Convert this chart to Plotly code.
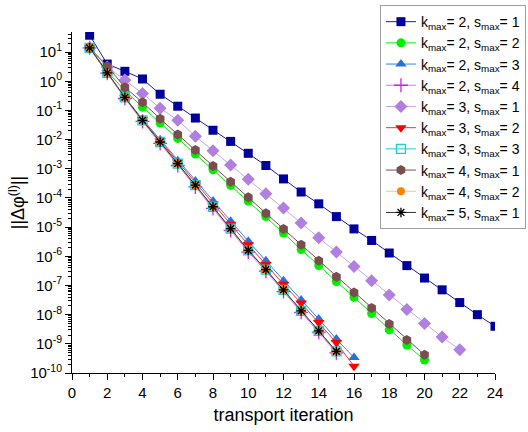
import plotly.graph_objects as go

# Residual norm per transport iteration for each (k_max, s_max) setting
res_k2_s1 = [38, 3.9, 2.2, 1.2, 0.36, 0.14, 0.055, 0.021, 8.7e-3, 3.4e-3, 1.3e-3, 4.5e-4,
             1.6e-4, 6.3e-5, 2.3e-5, 8.7e-6, 3.5e-6, 1.3e-6, 4.8e-7, 1.8e-7, 7.1e-8,
             2.6e-8, 1.0e-8, 4.0e-9]
res_k2_s2 = [14, 2.2, 0.47, 0.13, 0.037, 0.011, 3.2e-3, 9.3e-4, 2.7e-4, 7.9e-5, 2.3e-5,
             6.3e-6, 1.7e-6, 4.8e-7, 1.35e-7, 3.9e-8, 1.1e-8, 3.0e-9, 9.1e-10, 2.8e-10]
res_k2_s3 = [14, 1.95, 0.28, 0.05, 0.01, 1.9e-3, 3.8e-4, 7.9e-5, 1.6e-5, 3.3e-6, 7.1e-7,
             1.45e-7, 3.2e-8, 7.1e-9, 1.45e-9, 3.4e-10]
res_k2_s4 = [14, 1.9, 0.26, 0.042, 7.4e-3, 1.3e-3, 2.4e-4, 4.4e-5, 7.8e-6, 1.4e-6, 3.1e-7,
             6.2e-8, 1.2e-8, 2.5e-9, 4.9e-10]
res_k3_s1 = [14, 3.1, 1.1, 0.38, 0.12, 0.046, 0.013, 4.2e-3, 1.35e-3, 4.4e-4, 1.4e-4,
             4.5e-5, 1.4e-5, 4.3e-6, 1.4e-6, 4.5e-7, 1.45e-7, 4.7e-8, 1.5e-8, 5.0e-9,
             1.7e-9, 6.3e-10]
res_k3_s2 = [14, 1.95, 0.28, 0.048, 9.1e-3, 1.7e-3, 3.2e-4, 6.3e-5, 1.26e-5, 2.5e-6,
             5.2e-7, 1.1e-7, 2.5e-8, 5.4e-9, 1.1e-9, 1.7e-10]
res_k3_s3 = [14, 1.95, 0.28, 0.046, 8.3e-3, 1.5e-3, 2.75e-4, 5.0e-5, 8.9e-6, 1.6e-6,
             3.5e-7, 7.1e-8, 1.35e-8, 2.8e-9, 5.5e-10]
res_k4_s1 = [14, 3.3, 0.62, 0.19, 0.052, 0.015, 4.4e-3, 1.26e-3, 3.6e-4, 1.05e-4, 3.0e-5,
             8.7e-6, 2.5e-6, 7.1e-7, 2.0e-7, 5.8e-8, 1.7e-8, 4.8e-9, 1.35e-9, 4.2e-10]
res_k4_s2 = [14, 1.95, 0.28, 0.046, 8.3e-3, 1.5e-3, 2.75e-4, 5.0e-5, 8.9e-6, 1.6e-6,
             3.5e-7, 7.1e-8, 1.35e-8, 2.8e-9, 5.5e-10]
res_k5_s1 = [14, 1.95, 0.28, 0.046, 8.3e-3, 1.5e-3, 2.75e-4, 5.0e-5, 8.9e-6, 1.6e-6,
             3.5e-7, 7.1e-8, 1.35e-8, 2.8e-9, 5.5e-10]

# Decade exponents labelled on the log axis
y_exponents = [-10, -9, -8, -7, -6, -5, -4, -3, -2, -1, 0, 1]

series = [
    # (k_max, s_max, values, marker color, line color, symbol, size)
    (2, 1, res_k2_s1, "#00009C", "#1a1aa8", "square", 9),
    (2, 2, res_k2_s2, "#00F000", "#00F000", "circle", 9),
    (2, 3, res_k2_s3, "#2A6FE0", "#3A7FE8", "triangle-up", 10),
    (2, 4, res_k2_s4, "#D020F0", "#E070F8", "cross-thin-open", 10),
    (3, 1, res_k3_s1, "#B07FE0", "#C9A4EC", "diamond", 10),
    (3, 2, res_k3_s2, "#FF0000", "#FF3030", "triangle-down", 10),
    (3, 3, res_k3_s3, "#20CCCC", "#20CCCC", "square-open", 9),
    (4, 1, res_k4_s1, "#7A4E4E", "#7A4E4E", "hexagon", 10),
    (4, 2, res_k4_s2, "#FF8000", "#FFC080", "circle", 8),
    (5, 1, res_k5_s1, "#000000", "#333333", "asterisk-open", 8),
]

fig = go.Figure()
for k, s, vals, mcol, lcol, sym, size in series:
    iters = list(range(1, len(vals) + 1))
    marker = dict(symbol=sym, size=size, color=mcol)
    if sym.endswith("open"):
        marker["line"] = dict(color=mcol, width=1.3)
    fig.add_trace(go.Scatter(
        x=iters, y=vals, mode="lines+markers",
        name=f"k<sub>max</sub>= {k}, s<sub>max</sub>= {s}",
        line=dict(color=lcol, width=1),
        marker=marker,
    ))

font = "Arial, Liberation Sans, sans-serif"
fig.update_layout(
    width=528, height=432,
    margin=dict(l=72, r=33, t=32, b=59, autoexpand=False),
    paper_bgcolor="white", plot_bgcolor="white",
    font=dict(family=font, size=15, color="black"),
    showlegend=True,
    legend=dict(
        x=0.728, y=1.079, xanchor="left", yanchor="top",
        bordercolor="#A0A0A0", borderwidth=1, bgcolor="white",
        font=dict(family=font, size=14, color="black"),
        tracegroupgap=0, itemwidth=30, maxheight=400,
    ),
    xaxis=dict(
        range=[0, 24], tickmode="linear", tick0=0, dtick=2,
        ticks="outside", ticklen=6, tickcolor="black",
        showline=True, linecolor="black", linewidth=1,
        showgrid=False, zeroline=False,
        minor=dict(ticks="outside", ticklen=3, dtick=1, tickcolor="black", showgrid=False),
        tickfont=dict(size=15),
        title=dict(text="transport iteration", font=dict(size=18), standoff=8),
    ),
    yaxis=dict(
        type="log", range=[-10, 1.69],
        tickmode="array",
        tickvals=[10.0 ** e for e in y_exponents],
        ticktext=[f"10<sup>{e}</sup>" for e in y_exponents],
        ticks="outside", ticklen=6, tickcolor="black",
        showline=True, linecolor="black", linewidth=1,
        showgrid=False, zeroline=False,
        minor=dict(ticks="outside", ticklen=3, dtick="D1", tickcolor="black", showgrid=False),
        tickfont=dict(size=15),
        title=dict(text="||Δφ<sup>(l)</sup>||", font=dict(size=18), standoff=0),
    ),
)

fig.write_html("out.html")
